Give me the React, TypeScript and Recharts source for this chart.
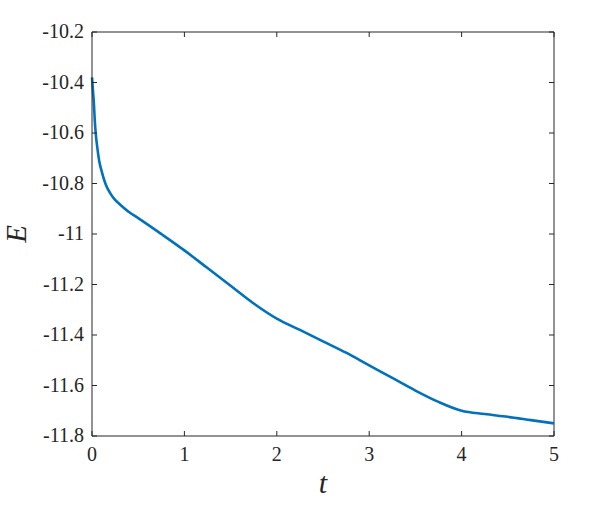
import React from "react";
import { LineChart, Line, XAxis, YAxis, Label, ReferenceLine } from "recharts";

// Energy E over time t
const T_VALUES = [
  0, 0.01, 0.02, 0.03, 0.04, 0.06, 0.08, 0.1, 0.15, 0.2, 0.25, 0.3, 0.4, 0.5, 0.75,
  1, 1.25, 1.5, 1.75, 2, 2.25, 2.5, 2.75, 3, 3.25, 3.5, 3.75, 4, 4.25, 4.5, 4.75, 5,
];
const E_VALUES = [
  -10.38, -10.43, -10.48, -10.55, -10.6, -10.665, -10.715, -10.745, -10.805, -10.84,
  -10.865, -10.882, -10.913, -10.937, -11.0, -11.065, -11.135, -11.205, -11.275, -11.335,
  -11.38, -11.425, -11.47, -11.52, -11.57, -11.62, -11.665, -11.7, -11.713, -11.724,
  -11.737, -11.75,
];
const X_TICKS = [0, 1, 2, 3, 4, 5];
const Y_TICKS = [-11.8, -11.6, -11.4, -11.2, -11, -10.8, -10.6, -10.4, -10.2];

const data = T_VALUES.map((t, i) => ({ t, e: E_VALUES[i] }));

const AXIS = "#262626";
const FONT = "'Liberation Serif', 'Times New Roman', serif";
const TICK_LEN = 5;
const PLOT_W = 462;
const PLOT_H = 404;

const fmtY = (v: number) => (Number.isInteger(v) ? String(v) : v.toFixed(1));

// MATLAB-style inward ticks, mirrored on the top / right edges of the box
const BottomTick = ({ x, y, payload }: any) => {
  const base = y - 10;
  return (
    <g>
      <line x1={x} y1={base} x2={x} y2={base - TICK_LEN} stroke={AXIS} strokeWidth={1} />
      <line x1={x} y1={base - PLOT_H} x2={x} y2={base - PLOT_H + TICK_LEN} stroke={AXIS} strokeWidth={1} />
      <text x={x} y={y + 15} textAnchor="middle" fill={AXIS} fontSize={20}
        style={{ fontFamily: FONT }}>
        {payload.value}
      </text>
    </g>
  );
};

const LeftTick = ({ x, y, payload }: any) => {
  const base = x + 8;
  return (
    <g>
      <line x1={base} y1={y} x2={base + TICK_LEN} y2={y} stroke={AXIS} strokeWidth={1} />
      <line x1={base + PLOT_W} y1={y} x2={base + PLOT_W - TICK_LEN} y2={y} stroke={AXIS} strokeWidth={1} />
      <text x={x} y={y + 6} textAnchor="end" fill={AXIS} fontSize={20}
        style={{ fontFamily: FONT }}>
        {fmtY(payload.value)}
      </text>
    </g>
  );
};

export default function App() {
  return (
    <div style={{ position: "absolute", left: 0, top: 0, background: "#fff" }}>
      <LineChart width={598} height={505} data={data}
        margin={{ top: 32, right: 44, left: 30, bottom: 19 }}>
        <XAxis dataKey="t" type="number" domain={[0, 5]} ticks={X_TICKS}
          height={50} tickSize={0} tickMargin={10} tick={<BottomTick />}
          axisLine={{ stroke: AXIS, strokeWidth: 1 }} tickLine={false}>
          <Label content={({ viewBox }: any) => (
            <text x={viewBox.x + viewBox.width / 2} y={viewBox.y + 57} textAnchor="middle"
              fill={AXIS} fontSize={30} fontStyle="italic" style={{ fontFamily: FONT }}>t</text>
          )} />
        </XAxis>
        <YAxis type="number" domain={[-11.8, -10.2]} ticks={Y_TICKS} width={62}
          tickSize={0} tickMargin={8} tick={<LeftTick />}
          axisLine={{ stroke: AXIS, strokeWidth: 1 }} tickLine={false}>
          <Label content={({ viewBox }: any) => {
            const cy = viewBox.y + viewBox.height / 2;
            return (
              <text x={26} y={cy} transform={`rotate(-90 26 ${cy})`} textAnchor="middle"
                fill={AXIS} fontSize={29} fontStyle="italic" style={{ fontFamily: FONT }}>E</text>
            );
          }} />
        </YAxis>
        <ReferenceLine y={-10.2} stroke={AXIS} strokeWidth={1} />
        <ReferenceLine x={5} stroke={AXIS} strokeWidth={1} />
        <Line dataKey="e" type="monotone" stroke="#0072BD" strokeWidth={2.6}
          dot={false} isAnimationActive={false} />
      </LineChart>
    </div>
  );
}
